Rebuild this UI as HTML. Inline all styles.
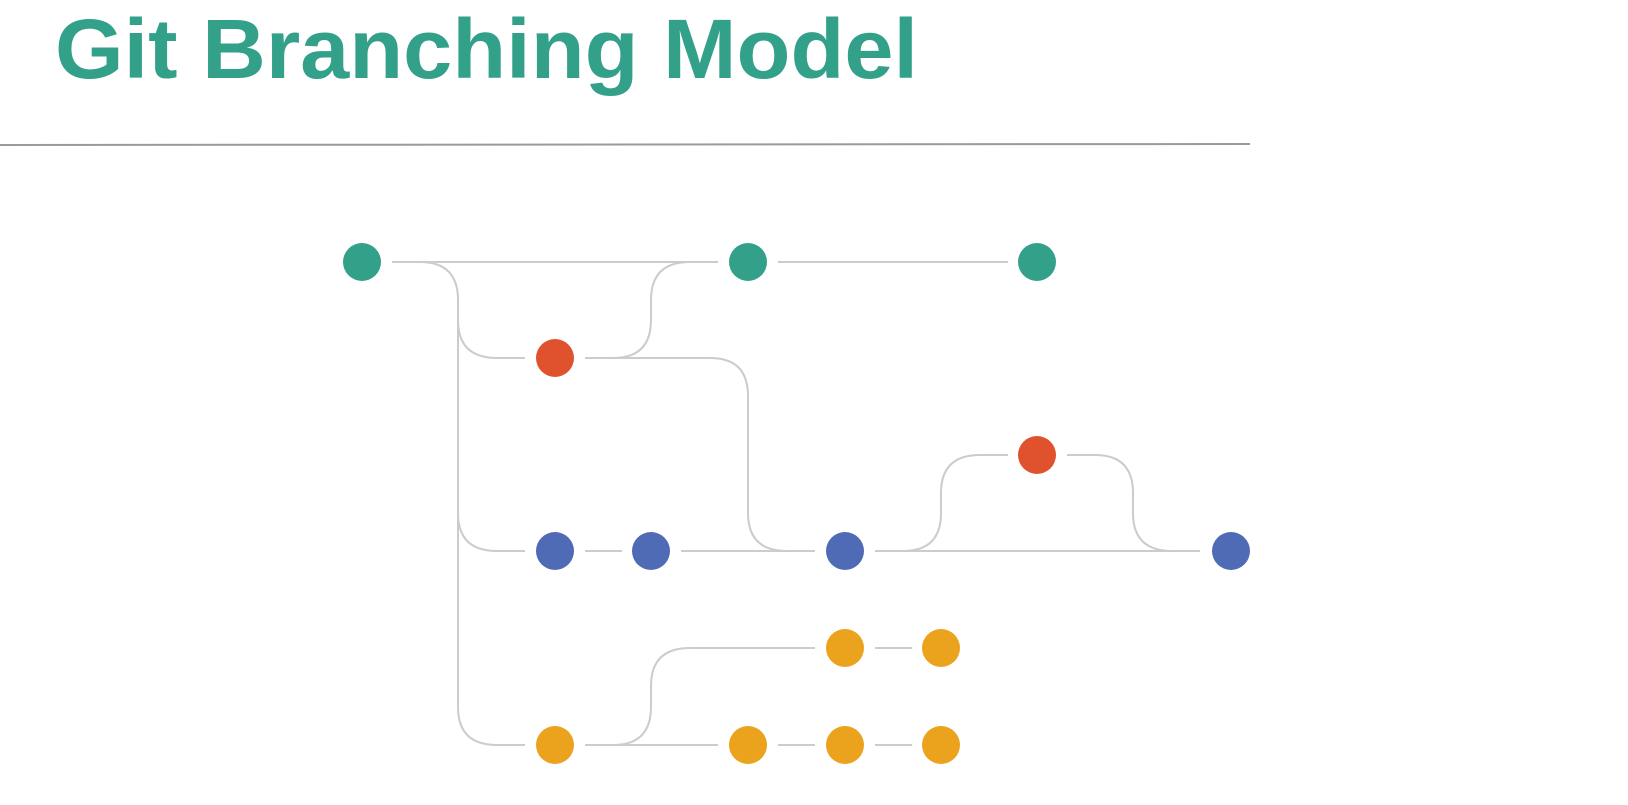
<!DOCTYPE html>
<html><head><meta charset="utf-8"><style>
html,body{margin:0;padding:0;background:#fff;}
svg{display:block;}
</style></head><body>
<svg width="1628" height="805" viewBox="0 0 1628 805" xmlns="http://www.w3.org/2000/svg">
<rect width="1628" height="805" fill="#fff"/>
<text x="55" y="78" font-family="Liberation Sans, sans-serif" font-weight="bold" font-size="84" fill="#33a08a" textLength="863" lengthAdjust="spacingAndGlyphs">Git Branching Model</text>
<line x1="0" y1="145" x2="1250" y2="144" stroke="#9a9a9a" stroke-width="2"/>
<g fill="none" stroke="#cccccc" stroke-width="2">
<!-- master line -->
<path d="M392 262 H718"/>
<path d="M778 262 H1008"/>
<!-- main trunk down -->
<path d="M420 262 Q458 262 458 300 V707 Q458 745 497 745 H525"/>
<path d="M458 320 Q458 358 497 358 H525"/>
<path d="M458 513 Q458 551 497 551 H525"/>
<!-- red1 to master -->
<path d="M585 358 H613 Q651 358 651 320 V300 Q651 262 690 262"/>
<!-- red1 to blue -->
<path d="M585 358 H710 Q748 358 748 396 V513 Q748 551 787 551 H815"/>
<!-- blue line -->
<path d="M585 551 H622"/>
<path d="M681 551 H815"/>
<path d="M875 551 H1200"/>
<path d="M875 551 H903 Q941 551 941 513 V493 Q941 455 980 455 H1008"/>
<path d="M1067 455 H1095 Q1133 455 1133 493 V513 Q1133 551 1172 551"/>
<!-- yellow -->
<path d="M585 745 H718"/>
<path d="M585 745 H613 Q651 745 651 707 V686 Q651 648 690 648 H815"/>
<path d="M875 648 H912"/>
<path d="M778 745 H815"/>
<path d="M875 745 H912"/>
</g>
<g>
<circle cx="362" cy="262" r="19" fill="#33a08a"/>
<circle cx="748" cy="262" r="19" fill="#33a08a"/>
<circle cx="1037" cy="262" r="19" fill="#33a08a"/>
<circle cx="555" cy="358" r="19" fill="#e0522e"/>
<circle cx="1037" cy="455" r="19" fill="#e0522e"/>
<circle cx="555" cy="551" r="19" fill="#4f6bb5"/>
<circle cx="651" cy="551" r="19" fill="#4f6bb5"/>
<circle cx="845" cy="551" r="19" fill="#4f6bb5"/>
<circle cx="1231" cy="551" r="19" fill="#4f6bb5"/>
<circle cx="845" cy="648" r="19" fill="#eba21c"/>
<circle cx="941" cy="648" r="19" fill="#eba21c"/>
<circle cx="555" cy="745" r="19" fill="#eba21c"/>
<circle cx="748" cy="745" r="19" fill="#eba21c"/>
<circle cx="845" cy="745" r="19" fill="#eba21c"/>
<circle cx="941" cy="745" r="19" fill="#eba21c"/>
</g>
</svg>
</body></html>
